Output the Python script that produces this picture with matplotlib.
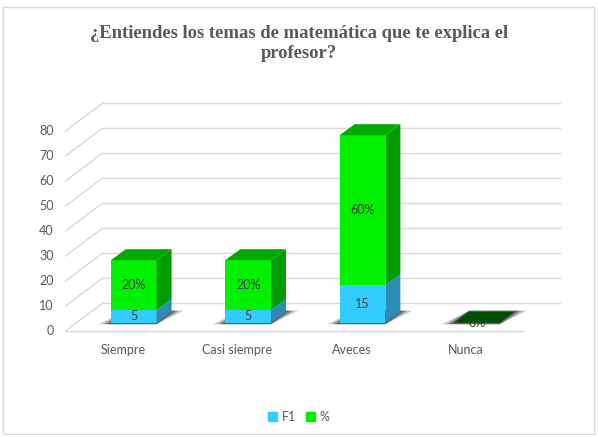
import matplotlib as mpl
mpl.use('Agg')
import matplotlib.pyplot as plt
from matplotlib.patches import Polygon, Rectangle, Patch

# data
categorias = ["Siempre", "Casi siempre", "Aveces", "Nunca"]
f1 = [5, 5, 15, 0]
porcentaje = [20, 20, 60, 0]
ticks = [0, 10, 20, 30, 40, 50, 60, 70, 80]
titulo = ["¿Entiendes los temas de matemática que te explica el", "profesor?"]

W, H = 598, 437
# pixel layout of the bar front plane
PX_X0 = 76.5      # left edge of category -0.5
PX_CAT = 114.4    # pixels per category
PX_Y0 = 322.7     # pixel row (from top) of value 0
PX_VAL = 2.5      # pixels per value unit


def off(dx, dy):
    # pixel offset -> data offset
    return dx / PX_CAT, dy / PX_VAL


BAR_D = off(15, 11)       # bar depth
FRONT = off(-11, -8.3)    # front wall plane
BACK = off(25.7, 19.3)    # back wall plane
BW = 0.40

GRID = '#d9d9d9'
TXT = '#595959'
LBL = '#404040'

fig = plt.figure(figsize=(W / 100, H / 100), dpi=100)
ax = fig.add_axes([0, 0, 1, 1])
ax.set_xlim(-0.5 - PX_X0 / PX_CAT, -0.5 + (W - PX_X0) / PX_CAT)
ax.set_ylim((PX_Y0 - H) / PX_VAL, PX_Y0 / PX_VAL)
ax.axis('off')

fig.patches.append(Rectangle((3 / W, 1 - 434 / H), 591 / W, 427 / H, transform=fig.transFigure,
                             fill=False, ec=GRID, lw=1))

x_l, x_r = -0.5, len(categorias) - 0.5
tick_tr = ax.transData + mpl.transforms.ScaledTranslation(-12 / 100, 0, fig.dpi_scale_trans)
# back wall grid + left wall diagonals
for v in ticks:
    ax.plot([x_l + BACK[0], x_r + BACK[0]], [v + BACK[1], v + BACK[1]], color=GRID, lw=1, zorder=1)
    ax.plot([x_l + FRONT[0], x_l + BACK[0]], [v + FRONT[1], v + BACK[1]], color=GRID, lw=1, zorder=1)
    ax.text(x_l + FRONT[0], v + FRONT[1], str(v), ha='right', va='center', fontsize=9,
            color=TXT, family='Lato', transform=tick_tr)
# floor front edge
ax.plot([x_l + FRONT[0], x_r + FRONT[0]], [FRONT[1], FRONT[1]], color=GRID, lw=1, zorder=1)

for i, cat in enumerate(categorias):
    a, b = f1[i], porcentaje[i]
    xl, xr = i - BW / 2, i + BW / 2
    dx, dy = BAR_D
    sx, sy = off(12, 0)
    # shadow
    for k, al in [(1.0, 0.25), (0.6, 0.35), (0.3, 0.4)]:
        ax.add_patch(Polygon([(xl - sx * k, -0.6), (xr, -0.6), (xr + dx + sx * k, dy + 0.4), (xl + dx, dy + 0.4)],
                             closed=True, fc='#202020', ec='none', alpha=al, zorder=2))
    # front faces
    if a > 0:
        ax.bar(i, a, width=BW, bottom=0, color='#33ccff', zorder=3)
        ax.add_patch(Polygon([(xr, 0), (xr + dx, dy), (xr + dx, a + dy), (xr, a)], fc='#2b8cb5', ec='none', zorder=3))
        ax.text(i, a / 2, str(a), ha='center', va='center', fontsize=9, color=LBL, family='Lato', zorder=5)
    if b > 0:
        ax.bar(i, b, width=BW, bottom=a, color='#00f000', zorder=3)
        ax.add_patch(Polygon([(xr, a), (xr + dx, a + dy), (xr + dx, a + b + dy), (xr, a + b)], fc='#009c00', ec='none', zorder=3))
    top = a + b
    ax.text(i, a + b / 2, f"{b}%", ha='center', va='center', fontsize=9, color=LBL, family='Lato', zorder=3.5)
    top_c = '#00aa00' if top > 0 else '#004d00'
    ax.add_patch(Polygon([(xl, top), (xr, top), (xr + dx, top + dy), (xl + dx, top + dy)], fc=top_c, ec='none', zorder=4))
    # category label
    ax.text(i + FRONT[0], FRONT[1] - 19 / PX_VAL, cat, ha='center', va='center', fontsize=9, color=TXT, family='Lato')

for j, line in enumerate(titulo):
    fig.text(0.5, 1 - (33 + 20 * j) / H, line, ha='center', va='center', fontsize=13.4, fontweight='bold',
             color=TXT, family='Liberation Serif')

handles = [Patch(color='#33ccff', label='F1'), Patch(color='#00f000', label='%')]
fig.legend(handles=handles, loc='center', bbox_to_anchor=(0.5, 1 - 417 / H), ncol=2, frameon=False,
           prop={'family': 'Lato', 'size': 9}, labelcolor=TXT, handlelength=0.7, handleheight=0.7,
           handletextpad=0.4, columnspacing=0.8)

fig.savefig('out.png', dpi=100)
